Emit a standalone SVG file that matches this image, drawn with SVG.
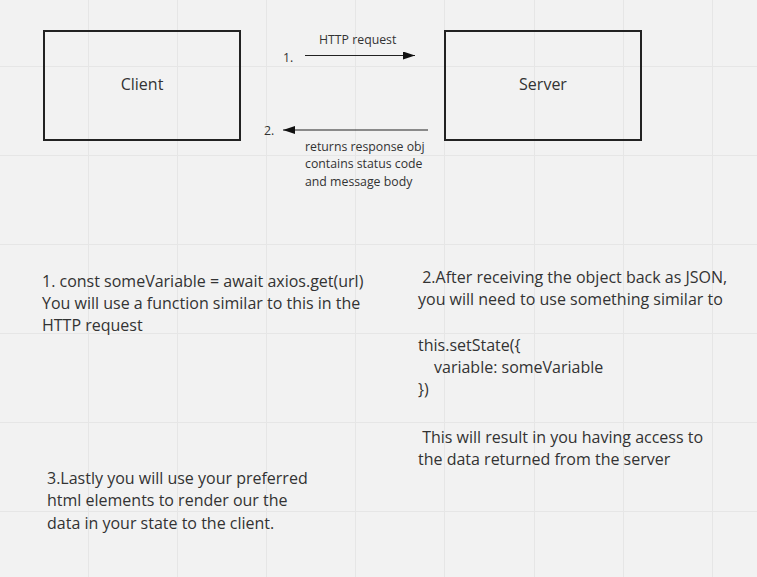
<svg xmlns="http://www.w3.org/2000/svg" width="757" height="577" viewBox="0 0 757 577">
<style>
.grid{stroke:#e6e6e6;stroke-width:1}
.box{fill:none;stroke:#222;stroke-width:2}
.t{font-family:"Open Sans","Liberation Sans",sans-serif;fill:#333}
.big{font-size:16px}
.sm{font-size:12.3px}
.lg{font-size:16px}
.conn{stroke:#222;stroke-width:1.2;fill:none}
</style>
<defs>
<marker id="ah" viewBox="0 0 12 8" refX="12" refY="4" markerWidth="12" markerHeight="8" markerUnits="userSpaceOnUse" orient="auto">
<path d="M0,0 L12,4 L0,8 Z" fill="#111"/>
</marker>
</defs>
<rect width="757" height="577" fill="#f2f2f2"/>
<g id="grid">
<line class="grid" x1="88.5" y1="0" x2="88.5" y2="577"/>
<line class="grid" x1="177.5" y1="0" x2="177.5" y2="577"/>
<line class="grid" x1="266.5" y1="0" x2="266.5" y2="577"/>
<line class="grid" x1="355.5" y1="0" x2="355.5" y2="577"/>
<line class="grid" x1="444.5" y1="0" x2="444.5" y2="577"/>
<line class="grid" x1="534.5" y1="0" x2="534.5" y2="577"/>
<line class="grid" x1="623.5" y1="0" x2="623.5" y2="577"/>
<line class="grid" x1="712.5" y1="0" x2="712.5" y2="577"/>
<line class="grid" x1="0" y1="66.5" x2="757" y2="66.5"/>
<line class="grid" x1="0" y1="155.5" x2="757" y2="155.5"/>
<line class="grid" x1="0" y1="244.5" x2="757" y2="244.5"/>
<line class="grid" x1="0" y1="333.5" x2="757" y2="333.5"/>
<line class="grid" x1="0" y1="422.5" x2="757" y2="422.5"/>
<line class="grid" x1="0" y1="511.5" x2="757" y2="511.5"/>
</g>
<g id="client">
<rect class="box" x="44" y="31" width="196" height="109"/>
<text class="t big" x="142" y="90" text-anchor="middle">Client</text>
</g>
<g id="server">
<rect class="box" x="445" y="31" width="196" height="109"/>
<text class="t big" x="543" y="90" text-anchor="middle">Server</text>
</g>
<g id="connectors">
<line class="conn" x1="305" y1="55.5" x2="415" y2="55.5" marker-end="url(#ah)"/>
<line class="conn" x1="428" y1="130" x2="283" y2="130" marker-end="url(#ah)"/>
</g>
<g id="labels">
<text class="t sm" x="283" y="62">1.</text>
<text class="t sm" x="319" y="44">HTTP request</text>
<text class="t sm" x="264" y="135">2.</text>
<text class="t sm" x="305" y="151">returns response obj</text>
<text class="t sm" x="305" y="168">contains status code</text>
<text class="t sm" x="305" y="186">and message body</text>
</g>
<g id="note1">
<text class="t lg" x="42" y="287">1. const someVariable = await axios.get(url)</text>
<text class="t lg" x="42" y="309">You will use a function similar to this in the</text>
<text class="t lg" x="42" y="331">HTTP request</text>
</g>
<g id="note2">
<text class="t lg" x="418" y="283" xml:space="preserve"> 2.After receiving the object back as JSON,</text>
<text class="t lg" x="418" y="305">you will need to use something similar to</text>
<text class="t lg" x="418" y="351">this.setState({</text>
<text class="t lg" x="434" y="373">variable: someVariable</text>
<text class="t lg" x="418" y="395">})</text>
<text class="t lg" x="418" y="443" xml:space="preserve"> This will result in you having access to</text>
<text class="t lg" x="418" y="465">the data returned from the server</text>
</g>
<g id="note3">
<text class="t lg" x="47" y="484">3.Lastly you will use your preferred</text>
<text class="t lg" x="47" y="506">html elements to render our the</text>
<text class="t lg" x="47" y="529">data in your state to the client.</text>
</g>
</svg>
